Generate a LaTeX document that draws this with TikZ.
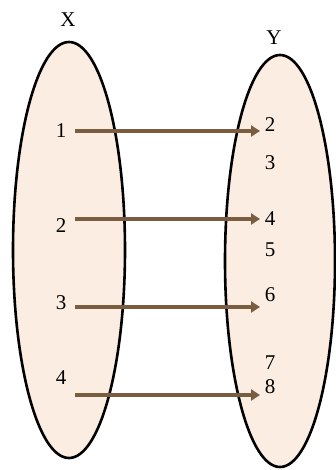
\documentclass[tikz,border=0pt]{standalone}
\usepackage{fontspec}
\setmainfont{Liberation Serif}
\usetikzlibrary{arrows.meta}
\definecolor{setfill}{HTML}{FBEDE2}
\definecolor{arr}{HTML}{7A5C40}
\begin{document}
\begin{tikzpicture}[x=1pt,y=-1pt,
  setshape/.style={draw=black,line width=2.6pt,fill=setfill},
  lbl/.style={font=\fontsize{21}{23}\selectfont,inner sep=0pt},
  mapto/.style={draw=arr,line width=3.4pt,-{Triangle[length=9pt,width=11pt]}}]
\useasboundingbox (0,0) rectangle (336,470);
\draw[setshape] (69,250) ellipse [x radius=56, y radius=208];
\draw[setshape] (280,261) ellipse [x radius=55, y radius=206];
\node[lbl] (X) at (68,20) {X};
\node[lbl] (Y) at (274,38) {Y};
\node[lbl] (x1) at (61,131) {1};
\node[lbl] (x2) at (61,226) {2};
\node[lbl] (x3) at (61,303) {3};
\node[lbl] (x4) at (61,378) {4};
\node[lbl] (y2) at (270,125) {2};
\node[lbl] (y3) at (270,163) {3};
\node[lbl] (y4) at (270,219) {4};
\node[lbl] (y5) at (270,250) {5};
\node[lbl] (y6) at (270,295) {6};
\node[lbl] (y7) at (270,363) {7};
\node[lbl] (y8) at (270,387) {8};
\coordinate (s1) at (75,131); \coordinate (e1) at (260,131);
\coordinate (s2) at (75,219); \coordinate (e2) at (260,219);
\coordinate (s3) at (75,307); \coordinate (e3) at (260,307);
\coordinate (s4) at (75,395); \coordinate (e4) at (260,395);
\draw[mapto] (s1) -- (e1);
\draw[mapto] (s2) -- (e2);
\draw[mapto] (s3) -- (e3);
\draw[mapto] (s4) -- (e4);
\end{tikzpicture}
\end{document}
